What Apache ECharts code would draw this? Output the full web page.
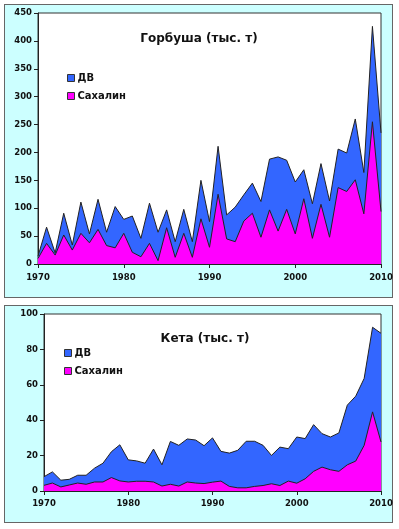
<!DOCTYPE html>
<html>
<head>
<meta charset="utf-8">
<script src="https://cdn.jsdelivr.net/npm/echarts@6/dist/echarts.min.js"></script>
<style>
  body { margin: 0; background: #fff; }
  .box { position: absolute; background: #ccffff; border: 1px solid #666; box-sizing: border-box; }
  #chart { position: absolute; left: 0; top: 0; width: 399px; height: 529px; }
</style>
</head>
<body>
<div class="box" style="left:4px; top:4px; width:389px; height:294px"></div>
<div class="box" style="left:4px; top:305px; width:389px; height:218px"></div>
<div id="chart"></div>
<script>
// годы 1970-2010
const years = []
for (let y = 1970; y <= 2010; y++) years.push(y)

// Горбуша, тыс. т
const gorbDV = [14, 66, 20, 91, 34, 111, 54, 116, 57, 103, 80, 86, 46, 109, 57, 97, 40, 98, 40, 150,
  76, 211, 88, 102, 124, 145, 112, 188, 192, 186, 147, 169, 108, 180, 113, 206, 199, 260, 164, 426, 235]
const gorbSakh = [10, 37, 16, 52, 25, 55, 38, 62, 33, 29, 55, 21, 13, 37, 6, 65, 12, 55, 12, 81,
  30, 125, 45, 40, 77, 91, 48, 97, 59, 98, 54, 117, 46, 107, 48, 137, 130, 151, 90, 255, 94]

// Кета, тыс. т
const ketaDV = [8.1, 10.8, 6.1, 6.6, 8.9, 8.9, 12.9, 15.7, 22.2, 26.1, 17.6, 17.0, 15.7, 23.7, 14.8, 28.0, 25.8, 29.4, 28.8, 25.6,
  30.0, 22.4, 21.4, 23.0, 28.1, 28.1, 25.8, 20.1, 24.8, 23.9, 30.5, 29.6, 37.5, 32.4, 30.5, 32.8, 48.5, 53.6, 63.6, 92.5, 89.1]
const ketaSakh = [3.2, 4.5, 2.3, 3.4, 4.5, 3.8, 5.1, 5.1, 7.6, 5.7, 5.1, 5.5, 5.5, 5.1, 2.8, 3.8, 2.8, 5.1, 4.5, 4.2,
  5.0, 5.6, 2.6, 1.8, 1.8, 2.6, 3.1, 4.1, 3.1, 5.6, 4.4, 6.9, 11.1, 13.5, 12.0, 11.1, 14.8, 16.9, 25.8, 44.7, 27.7]

const titles = ['Горбуша (тыс. т)', 'Кета (тыс. т)']
const seriesNames = ['ДВ', 'Сахалин']
const blue = '#3366ff'
const pink = '#ff00ff'
const font = 'DejaVu Sans'

const pairs = (vals) => vals.map((v, i) => [years[i], v])

const xAxisOf = (gridIndex, margin) => ({
  type: 'value', gridIndex, min: 1970, max: 2010, interval: 10,
  axisLine: { lineStyle: { color: '#222' } },
  axisTick: { length: 4, lineStyle: { color: '#222' } },
  axisLabel: { margin, color: '#111', fontFamily: font, fontWeight: 'bold', fontSize: 8.5,
    formatter: (v) => String(v) },
  splitLine: { show: false }
})
const yAxisOf = (gridIndex, max, interval) => ({
  type: 'value', gridIndex, min: 0, max, interval,
  axisLine: { show: true, lineStyle: { color: '#222' } },
  axisTick: { show: true, length: 4, lineStyle: { color: '#222' } },
  axisLabel: { margin: 6, color: '#111', fontFamily: font, fontWeight: 'bold', fontSize: 8.5 },
  splitLine: { show: false }
})
const areaSeries = (name, color, vals, idx) => ({
  name, type: 'line', xAxisIndex: idx, yAxisIndex: idx,
  data: pairs(vals), showSymbol: false, symbol: 'none',
  color, lineStyle: { color: '#222', width: 1 },
  areaStyle: { color, opacity: 1 }
})
const legendOf = (name, left, top) => ({
  data: [name], left, top, icon: 'rect', itemWidth: 7, itemHeight: 7, itemGap: 0,
  itemStyle: { borderColor: '#333', borderWidth: 1 },
  textStyle: { fontFamily: font, fontWeight: 'bold', fontSize: 10, color: '#111', padding: [0, 0, 0, -2] },
  selectedMode: false
})

const chart = echarts.init(document.getElementById('chart'))
chart.setOption({
  animation: false,
  backgroundColor: 'transparent',
  title: [
    { text: titles[0], left: 194, top: 28, textAlign: 'center',
      textStyle: { fontFamily: font, fontWeight: 'bold', fontSize: 12, color: '#111' } },
    { text: titles[1], left: 200, top: 328, textAlign: 'center',
      textStyle: { fontFamily: font, fontWeight: 'bold', fontSize: 12, color: '#111' } }
  ],
  legend: [
    legendOf(seriesNames[0], 62, 68),
    legendOf(seriesNames[1], 62, 86),
    legendOf(seriesNames[0], 59, 343),
    legendOf(seriesNames[1], 59, 361)
  ],
  grid: [
    { left: 38, top: 13, width: 343, height: 251, show: true, backgroundColor: '#fff', borderColor: '#333', borderWidth: 1 },
    { left: 44, top: 314, width: 337, height: 177, show: true, backgroundColor: '#fff', borderColor: '#333', borderWidth: 1 }
  ],
  xAxis: [xAxisOf(0, 9), xAxisOf(1, 8)],
  yAxis: [yAxisOf(0, 450, 50), yAxisOf(1, 100, 20)],
  series: [
    areaSeries(seriesNames[0], blue, gorbDV, 0),
    areaSeries(seriesNames[1], pink, gorbSakh, 0),
    areaSeries(seriesNames[0], blue, ketaDV, 1),
    areaSeries(seriesNames[1], pink, ketaSakh, 1)
  ]
})
</script>
</body>
</html>
